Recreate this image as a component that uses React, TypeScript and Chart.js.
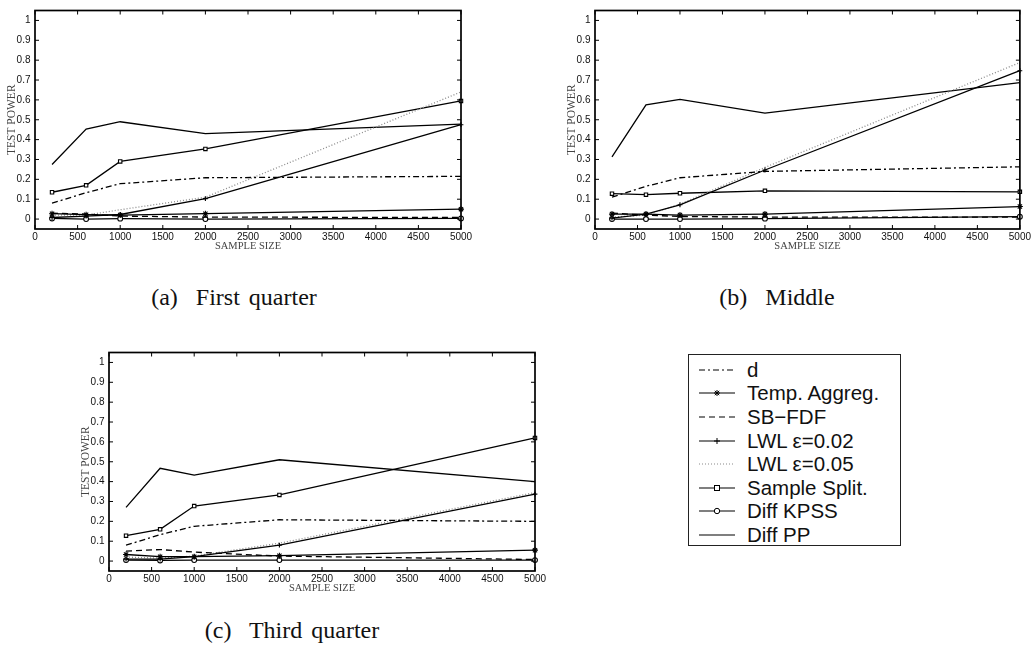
import React, { useEffect, useRef } from "react";
import { Chart, registerables } from "chart.js";

Chart.register(...registerables);

// ---------- data ----------
const SAMPLE_SIZES = [200, 600, 1000, 2000, 5000];
const X_TICKS = [0, 500, 1000, 1500, 2000, 2500, 3000, 3500, 4000, 4500, 5000];
const Y_TICKS = [0, 0.1, 0.2, 0.3, 0.4, 0.5, 0.6, 0.7, 0.8, 0.9, 1];

const SERIES_NAMES = [
  "d",
  "Temp. Aggreg.",
  "SB\u2212FDF",
  "LWL \u03b5=0.02",
  "LWL \u03b5=0.05",
  "Sample Split.",
  "Diff KPSS",
  "Diff PP",
];

// (a) First quarter
const A_D = [0.08, 0.133, 0.178, 0.208, 0.215];
const A_TEMP = [0.027, 0.022, 0.02, 0.027, 0.05];
const A_SBFDF = [0.03, 0.025, 0.015, 0.01, 0.008];
const A_LWL02 = [0.008, 0.015, 0.023, 0.103, 0.475];
const A_LWL05 = [0.02, 0.02, 0.047, 0.11, 0.64];
const A_SPLIT = [0.135, 0.17, 0.29, 0.353, 0.595];
const A_KPSS = [0.003, 0.0, 0.002, 0.0, 0.003];
const A_PP = [0.275, 0.453, 0.49, 0.43, 0.478];

// (b) Middle
const B_D = [0.11, 0.165, 0.208, 0.24, 0.263];
const B_TEMP = [0.025, 0.025, 0.02, 0.025, 0.063];
const B_SBFDF = [0.03, 0.02, 0.013, 0.01, 0.01];
const B_LWL02 = [0.005, 0.025, 0.072, 0.247, 0.747];
const B_LWL05 = [0.01, 0.02, 0.075, 0.26, 0.788];
const B_SPLIT = [0.128, 0.123, 0.13, 0.142, 0.137];
const B_KPSS = [0.0, 0.0, 0.0, 0.002, 0.012];
const B_PP = [0.313, 0.575, 0.603, 0.533, 0.687];

// (c) Third quarter
const C_D = [0.08, 0.133, 0.175, 0.208, 0.2];
const C_TEMP = [0.033, 0.022, 0.022, 0.027, 0.055];
const C_SBFDF = [0.05, 0.058, 0.045, 0.025, 0.008];
const C_LWL02 = [0.01, 0.01, 0.022, 0.08, 0.337];
const C_LWL05 = [0.02, 0.015, 0.025, 0.09, 0.345];
const C_SPLIT = [0.128, 0.16, 0.277, 0.333, 0.62];
const C_KPSS = [0.005, 0.003, 0.005, 0.005, 0.005];
const C_PP = [0.27, 0.467, 0.433, 0.51, 0.4];

const PANEL_A = [A_D, A_TEMP, A_SBFDF, A_LWL02, A_LWL05, A_SPLIT, A_KPSS, A_PP];
const PANEL_B = [B_D, B_TEMP, B_SBFDF, B_LWL02, B_LWL05, B_SPLIT, B_KPSS, B_PP];
const PANEL_C = [C_D, C_TEMP, C_SBFDF, C_LWL02, C_LWL05, C_SPLIT, C_KPSS, C_PP];

// ---------- styles ----------
type Style = {
  color: string;
  dash: number[];
  marker: "none" | "star" | "cross" | "rect" | "circle";
};
const STYLES: Style[] = [
  { color: "#000", dash: [6, 3, 2, 3], marker: "none" },
  { color: "#000", dash: [], marker: "star" },
  { color: "#000", dash: [6, 4], marker: "none" },
  { color: "#000", dash: [], marker: "cross" },
  { color: "#8a8a8a", dash: [1, 2], marker: "none" },
  { color: "#000", dash: [], marker: "rect" },
  { color: "#000", dash: [], marker: "circle" },
  { color: "#000", dash: [], marker: "none" },
];

const framePlugin = {
  id: "matlabFrame",
  afterDraw(chart: any) {
    const { ctx, chartArea, scales } = chart;
    const { left, right, top, bottom } = chartArea;
    const x = scales.x;
    const y = scales.y;
    ctx.save();
    ctx.strokeStyle = "#000";
    ctx.lineWidth = 1;
    ctx.beginPath();
    x.ticks.forEach((t: any) => {
      const px = x.getPixelForValue(t.value);
      ctx.moveTo(px, bottom);
      ctx.lineTo(px, bottom - 4);
      ctx.moveTo(px, top);
      ctx.lineTo(px, top + 4);
    });
    y.ticks.forEach((t: any) => {
      const py = y.getPixelForValue(t.value);
      ctx.moveTo(left, py);
      ctx.lineTo(left + 4, py);
      ctx.moveTo(right, py);
      ctx.lineTo(right - 4, py);
    });
    ctx.stroke();
    ctx.lineWidth = 1.7;
    ctx.strokeRect(left, top, right - left, bottom - top);
    ctx.restore();
  },
};

function makeDatasets(panel: number[][]) {
  return panel.map((vals, i) => {
    const s = STYLES[i];
    const hasMarker = s.marker !== "none";
    return {
      label: SERIES_NAMES[i],
      data: SAMPLE_SIZES.map((x, k) => ({ x, y: vals[k] })),
      borderColor: s.color,
      borderWidth: 1.3,
      borderDash: s.dash,
      backgroundColor: "#fff",
      pointStyle: hasMarker ? s.marker : false,
      pointRadius: hasMarker ? (s.marker === "star" ? 3 : 2.4) : 0,
      pointBorderColor: "#000",
      pointBackgroundColor: "#fff",
      pointBorderWidth: 1.1,
      fill: false,
      tension: 0,
      clip: false,
    };
  });
}

function Panel({
  panel,
  left,
  top,
  width,
  height,
  padRight,
}: {
  panel: number[][];
  left: number;
  top: number;
  width: number;
  height: number;
  padRight: number;
}) {
  const ref = useRef<HTMLCanvasElement | null>(null);
  useEffect(() => {
    if (!ref.current) return;
    const chart = new Chart(ref.current, {
      type: "line",
      data: { datasets: makeDatasets(panel) as any },
      options: {
        animation: false,
        responsive: false,
        events: [],
        layout: { padding: { left: 0, top: 9, right: padRight, bottom: 0 } },
        plugins: { legend: { display: false }, tooltip: { enabled: false } },
        scales: {
          x: {
            type: "linear",
            min: 0,
            max: 5000,
            grid: { display: false, drawTicks: false },
            border: { display: false },
            afterBuildTicks: (s: any) => {
              s.ticks = X_TICKS.map((v) => ({ value: v }));
            },
            afterFit: (s: any) => {
              s.height = 31;
            },
            ticks: {
              padding: 2,
              maxRotation: 0,
              autoSkip: false,
              color: "#111",
              font: { family: "'Liberation Sans', Arial, sans-serif", size: 10 },
              callback: (v: any) => String(v),
            },
            title: {
              display: true,
              text: "SAMPLE SIZE",
              color: "#444",
              font: { family: "'Liberation Serif', serif", size: 10.5 },
              padding: { top: 0, bottom: 7 },
            },
          },
          y: {
            type: "linear",
            min: -0.05,
            max: 1.05,
            grid: { display: false, drawTicks: false },
            border: { display: false },
            afterBuildTicks: (s: any) => {
              s.ticks = Y_TICKS.map((v) => ({ value: v }));
            },
            afterFit: (s: any) => {
              s.width = 35;
            },
            ticks: {
              padding: 4.5,
              autoSkip: false,
              color: "#111",
              font: { family: "'Liberation Sans', Arial, sans-serif", size: 10 },
              callback: (v: any) => String(Math.round(Number(v) * 10) / 10),
            },
            title: {
              display: true,
              text: "TEST POWER",
              color: "#444",
              font: { family: "'Liberation Serif', serif", size: 11.5 },
              padding: { top: 5.5, bottom: 0 },
            },
          },
        },
      },
      plugins: [framePlugin],
    });
    return () => chart.destroy();
  }, []);
  return (
    <canvas
      ref={ref}
      width={width}
      height={height}
      style={{ position: "absolute", left, top, width, height, display: "block" }}
    />
  );
}

function Marker({ kind }: { kind: Style["marker"] }) {
  const cx = 18;
  const cy = 7;
  if (kind === "rect")
    return <rect x={cx - 2.5} y={cy - 2.5} width={5} height={5} fill="#fff" stroke="#000" strokeWidth={1} />;
  if (kind === "circle") return <circle cx={cx} cy={cy} r={2.7} fill="#fff" stroke="#000" strokeWidth={1} />;
  if (kind === "cross")
    return (
      <path d={`M${cx - 3} ${cy} L${cx + 3} ${cy} M${cx} ${cy - 3} L${cx} ${cy + 3}`} stroke="#000" strokeWidth={1} />
    );
  if (kind === "star")
    return (
      <path
        d={`M${cx - 3} ${cy} L${cx + 3} ${cy} M${cx} ${cy - 3} L${cx} ${cy + 3} M${cx - 2.2} ${cy - 2.2} L${cx + 2.2} ${cy + 2.2} M${cx - 2.2} ${cy + 2.2} L${cx + 2.2} ${cy - 2.2}`}
        stroke="#000"
        strokeWidth={1}
      />
    );
  return null;
}

function Legend() {
  return (
    <div
      style={{
        position: "absolute",
        left: 688,
        top: 354,
        width: 213,
        height: 192,
        border: "1px solid #222",
        boxSizing: "border-box",
        paddingTop: 3,
        fontFamily: "'Liberation Sans', Arial, sans-serif",
        fontSize: 20.5,
        color: "#111",
      }}
    >
      {SERIES_NAMES.map((name, i) => (
        <div key={name} style={{ display: "flex", alignItems: "center", height: 23.6, whiteSpace: "nowrap" }}>
          <svg width={36} height={14} style={{ marginLeft: 10, marginRight: 12, flex: "none" }}>
            <line
              x1={0}
              y1={7}
              x2={36}
              y2={7}
              stroke={STYLES[i].color}
              strokeWidth={1.2}
              strokeDasharray={STYLES[i].dash.length ? STYLES[i].dash.join(" ") : undefined}
            />
            <Marker kind={STYLES[i].marker} />
          </svg>
          <span>{name}</span>
        </div>
      ))}
    </div>
  );
}

const captionStyle: React.CSSProperties = {
  position: "absolute",
  transform: "translateX(-50%)",
  fontFamily: "'Liberation Serif', 'Times New Roman', serif",
  fontSize: 24,
  lineHeight: "26px",
  whiteSpace: "nowrap",
  color: "#111",
  wordSpacing: 3,
};

export default function App() {
  return (
    <div
      style={{
        position: "absolute",
        left: 0,
        top: 0,
        width: 1033,
        height: 647,
        background: "#fff",
        overflow: "hidden",
      }}
    >
      <Panel panel={PANEL_A} left={0} top={0} width={480} height={260} padRight={19} />
      <Panel panel={PANEL_B} left={560} top={0} width={473} height={260} padRight={12} />
      <Panel panel={PANEL_C} left={74} top={342} width={480} height={260} padRight={19} />
      <div style={{ ...captionStyle, left: 234, top: 284 }}>(a)&nbsp; First quarter</div>
      <div style={{ ...captionStyle, left: 777, top: 284 }}>(b)&nbsp; Middle</div>
      <div style={{ ...captionStyle, left: 292, top: 617 }}>(c)&nbsp; Third quarter</div>
      <Legend />
    </div>
  );
}
